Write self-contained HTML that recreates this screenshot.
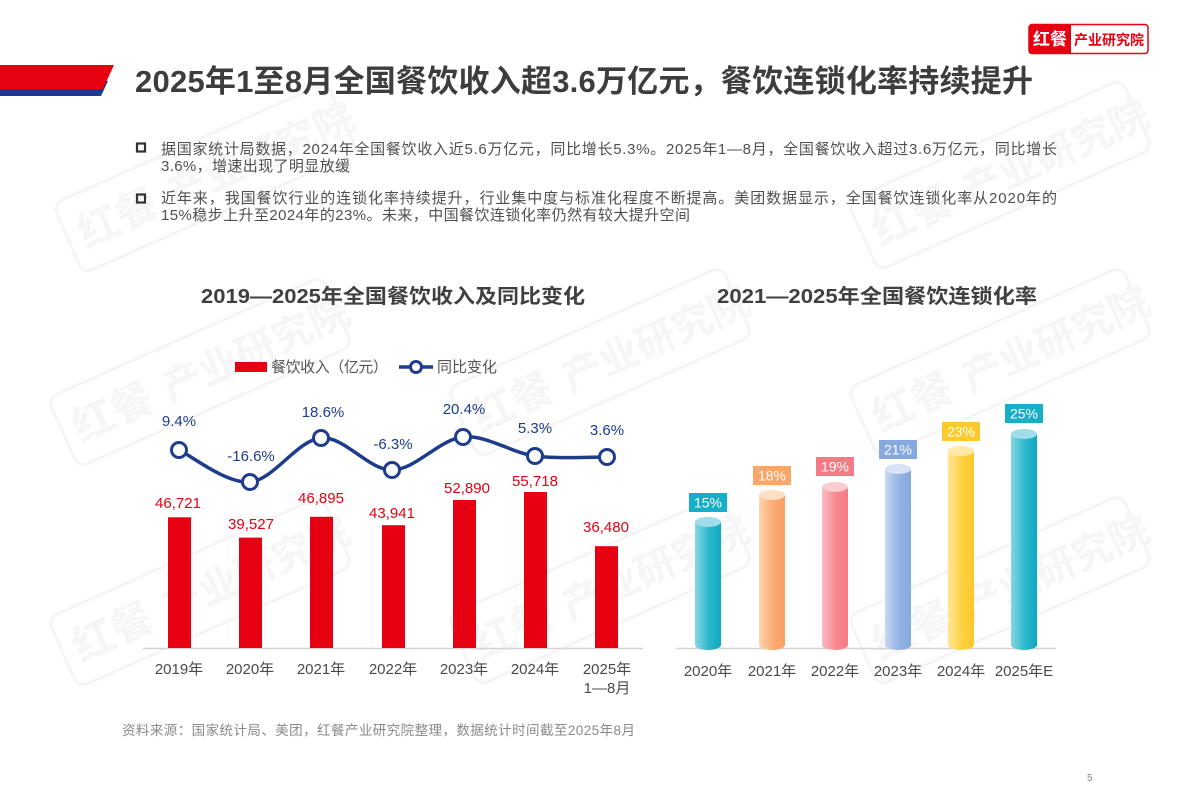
<!DOCTYPE html>
<html><head><meta charset="utf-8"><style>
html,body{margin:0;padding:0;background:#fff;}
svg{display:block;}
text{font-family:"Liberation Sans","Noto Sans CJK SC",sans-serif;}
</style></head><body>
<svg width="1190" height="793" viewBox="0 0 1190 793" xmlns="http://www.w3.org/2000/svg">
<defs>
<linearGradient id="gTeal" x1="0" x2="1" y1="0" y2="0"><stop offset="0" stop-color="#86d6e2"/><stop offset="0.55" stop-color="#2bb7cc"/><stop offset="1" stop-color="#12a8c1"/></linearGradient>
<linearGradient id="gOrange" x1="0" x2="1"><stop offset="0" stop-color="#fdd3ae"/><stop offset="0.55" stop-color="#fbab73"/><stop offset="1" stop-color="#f9a062"/></linearGradient>
<linearGradient id="gPink" x1="0" x2="1"><stop offset="0" stop-color="#f9bcc3"/><stop offset="0.55" stop-color="#f7878f"/><stop offset="1" stop-color="#f57b86"/></linearGradient>
<linearGradient id="gBlue" x1="0" x2="1"><stop offset="0" stop-color="#c8d9f3"/><stop offset="0.55" stop-color="#93b2e4"/><stop offset="1" stop-color="#86a9df"/></linearGradient>
<linearGradient id="gYellow" x1="0" x2="1"><stop offset="0" stop-color="#ffe696"/><stop offset="0.55" stop-color="#ffd040"/><stop offset="1" stop-color="#fdc92c"/></linearGradient>
<g id="wm">
<rect x="-150" y="-38" width="300" height="76" rx="10" fill="none" stroke="#f5f5f5" stroke-width="3"/>
<text x="-138" y="16" font-size="42" font-weight="bold" fill="#f6f6f6">红餐</text>
<text x="-40" y="16" font-size="40" font-weight="bold" fill="#f6f6f6">产业研究院</text>
</g>
</defs>

<!-- watermarks -->
<g>
<use href="#wm" transform="translate(205,178) rotate(-24)"/>
<use href="#wm" transform="translate(1000,175) rotate(-24)"/>
<use href="#wm" transform="translate(200,372) rotate(-24)"/>
<use href="#wm" transform="translate(600,362) rotate(-24)"/>
<use href="#wm" transform="translate(1000,362) rotate(-24)"/>
<use href="#wm" transform="translate(200,592) rotate(-24)"/>
<use href="#wm" transform="translate(600,590) rotate(-24)"/>
<use href="#wm" transform="translate(1000,590) rotate(-24)"/>
</g>

<!-- header band -->
<polygon points="0,81 108,81 101,96 0,96" fill="#1d3a8e"/>
<polygon points="0,65 114,65 103,89 0,89" fill="#e60012"/>

<!-- title -->
<text x="135" y="92" font-size="31" font-weight="bold" fill="#3d3d3d" textLength="898" lengthAdjust="spacing">2025年1至8月全国餐饮收入超3.6万亿元，餐饮连锁化率持续提升</text>

<!-- logo -->
<rect x="1029" y="24.5" width="119" height="29" rx="3" fill="#fff" stroke="#e60012" stroke-width="1.5"/>
<path d="M1032,24.5 h39 v29 h-39 a3,3 0 0 1 -3,-3 v-23 a3,3 0 0 1 3,-3z" fill="#e60012"/>
<text x="1033" y="45" font-size="17" font-weight="bold" fill="#fff" textLength="34" lengthAdjust="spacing">红餐</text>
<text x="1074" y="45" font-size="14" font-weight="bold" fill="#e60012" textLength="70" lengthAdjust="spacing">产业研究院</text>

<!-- bullets -->
<rect x="137" y="143.5" width="8" height="8" fill="none" stroke="#333" stroke-width="2.2"/>
<rect x="137" y="194.5" width="8" height="8" fill="none" stroke="#333" stroke-width="2.2"/>
<g font-size="15" fill="#505050">
<text x="161" y="154" textLength="896" lengthAdjust="spacing">据国家统计局数据，2024年全国餐饮收入近5.6万亿元，同比增长5.3%。2025年1—8月，全国餐饮收入超过3.6万亿元，同比增长</text>
<text x="161" y="171" textLength="189" lengthAdjust="spacing">3.6%，增速出现了明显放缓</text>
<text x="161" y="203" textLength="896" lengthAdjust="spacing">近年来，我国餐饮行业的连锁化率持续提升，行业集中度与标准化程度不断提高。美团数据显示，全国餐饮连锁化率从2020年的</text>
<text x="161" y="220" textLength="529" lengthAdjust="spacing">15%稳步上升至2024年的23%。未来，中国餐饮连锁化率仍然有较大提升空间</text>
</g>

<!-- chart titles -->
<text x="201" y="303" font-size="20" font-weight="bold" fill="#404040" textLength="384" lengthAdjust="spacingAndGlyphs">2019—2025年全国餐饮收入及同比变化</text>
<text x="717" y="303" font-size="20" font-weight="bold" fill="#404040" textLength="320" lengthAdjust="spacingAndGlyphs">2021—2025年全国餐饮连锁化率</text>

<!-- legend -->
<rect x="235" y="362" width="32" height="10" fill="#e60012"/>
<text x="271" y="372" font-size="15" fill="#555" textLength="117" lengthAdjust="spacing">餐饮收入（亿元）</text>
<line x1="399" y1="367" x2="433" y2="367" stroke="#1d3c8c" stroke-width="3.5"/>
<circle cx="416" cy="367" r="5.5" fill="#fff" stroke="#1d3c8c" stroke-width="3"/>
<text x="437" y="372" font-size="15" fill="#555" textLength="60" lengthAdjust="spacing">同比变化</text>

<!-- chart 1 axis -->
<line x1="143" y1="648.5" x2="643" y2="648.5" stroke="#d4d4d4" stroke-width="1.5"/>

<!-- bars -->
<g fill="#e60012">
<rect x="168" y="517.3" width="23" height="130.7"/>
<rect x="239" y="537.6" width="23" height="110.4"/>
<rect x="310" y="516.8" width="23" height="131.2"/>
<rect x="382" y="525.2" width="23" height="122.8"/>
<rect x="453" y="500" width="23" height="148"/>
<rect x="524" y="492" width="23" height="156"/>
<rect x="595" y="546.2" width="23" height="101.8"/>
</g>
<g font-size="15" fill="#e60012" text-anchor="middle">
<text x="178" y="508">46,721</text>
<text x="251" y="529">39,527</text>
<text x="321" y="503">46,895</text>
<text x="392" y="518">43,941</text>
<text x="467" y="493">52,890</text>
<text x="535" y="486">55,718</text>
<text x="606" y="532">36,480</text>
</g>

<!-- line -->
<path d="M179,450 C190.8,455.3 226.3,484 250,482 C273.7,480 297.3,440 321,438 C344.7,436 368.3,470.2 392,470 C415.7,469.8 439.2,439.3 463,437 C486.8,434.7 511,452.7 535,456 C559,459.3 595,456.8 607,457" fill="none" stroke="#1d3c8c" stroke-width="3.5"/>
<g fill="#fff" stroke="#1d3c8c" stroke-width="3">
<circle cx="179" cy="450" r="7.5"/>
<circle cx="250" cy="482" r="7.5"/>
<circle cx="321" cy="438" r="7.5"/>
<circle cx="392" cy="470" r="7.5"/>
<circle cx="463" cy="437" r="7.5"/>
<circle cx="535" cy="456" r="7.5"/>
<circle cx="607" cy="457" r="7.5"/>
</g>
<g font-size="15" fill="#1d3c8c" text-anchor="middle">
<text x="179" y="426">9.4%</text>
<text x="251" y="461">-16.6%</text>
<text x="323" y="417">18.6%</text>
<text x="393" y="449">-6.3%</text>
<text x="464" y="414">20.4%</text>
<text x="535" y="433">5.3%</text>
<text x="607" y="435">3.6%</text>
</g>

<!-- chart 1 x labels -->
<g font-size="15" fill="#4a4a4a" text-anchor="middle">
<text x="179" y="674">2019年</text>
<text x="250" y="674">2020年</text>
<text x="321" y="674">2021年</text>
<text x="393" y="674">2022年</text>
<text x="464" y="674">2023年</text>
<text x="535" y="674">2024年</text>
<text x="607" y="674">2025年</text>
<text x="607" y="693">1—8月</text>
</g>

<!-- chart 2 axis -->
<line x1="676" y1="648.5" x2="1056" y2="648.5" stroke="#d4d4d4" stroke-width="1.5"/>

<!-- cylinders -->
<g>
<path d="M695,522 V645 A13,5 0 0 0 721,645 V522 Z" fill="url(#gTeal)"/>
<ellipse cx="708" cy="522" rx="13" ry="5" fill="#9fdde8"/>
<path d="M759,495 V645 A13,5 0 0 0 785,645 V495 Z" fill="url(#gOrange)"/>
<ellipse cx="772" cy="495" rx="13" ry="5" fill="#fde0c6"/>
<path d="M822,487 V645 A13,5 0 0 0 848,645 V487 Z" fill="url(#gPink)"/>
<ellipse cx="835" cy="487" rx="13" ry="5" fill="#fbcdd2"/>
<path d="M885,469 V645 A13,5 0 0 0 911,645 V469 Z" fill="url(#gBlue)"/>
<ellipse cx="898" cy="469" rx="13" ry="5" fill="#d6e3f6"/>
<path d="M948,451 V645 A13,5 0 0 0 974,645 V451 Z" fill="url(#gYellow)"/>
<ellipse cx="961" cy="451" rx="13" ry="5" fill="#ffeaa8"/>
<path d="M1011,434 V645 A13,5 0 0 0 1037,645 V434 Z" fill="url(#gTeal)"/>
<ellipse cx="1024" cy="434" rx="13" ry="5" fill="#9fdde8"/>
</g>
<!-- label boxes -->
<rect x="689" y="493" width="38" height="19" fill="#17aec7"/>
<rect x="753" y="466" width="38" height="19" fill="#f9a66a"/>
<rect x="816" y="457" width="38" height="19" fill="#f57a86"/>
<rect x="879" y="440" width="38" height="19" fill="#86a9df"/>
<rect x="942" y="422" width="38" height="19" fill="#fdca2e"/>
<rect x="1005" y="404" width="38" height="19" fill="#17aec7"/>
<g font-size="14" fill="#fff" text-anchor="middle">
<text x="708" y="507.5">15%</text>
<text x="772" y="480.5">18%</text>
<text x="835" y="471.5">19%</text>
<text x="898" y="454.5">21%</text>
<text x="961" y="436.5">23%</text>
<text x="1024" y="418.5">25%</text>
</g>
<g font-size="15" fill="#4a4a4a" text-anchor="middle">
<text x="708" y="676">2020年</text>
<text x="772" y="676">2021年</text>
<text x="835" y="676">2022年</text>
<text x="898" y="676">2023年</text>
<text x="961" y="676">2024年</text>
<text x="1024" y="676">2025年E</text>
</g>

<!-- source -->
<text x="122" y="735" font-size="13.5" fill="#8a8a8a" textLength="513" lengthAdjust="spacing">资料来源：国家统计局、美团，红餐产业研究院整理，数据统计时间截至2025年8月</text>
<text x="1087" y="781" font-size="10" fill="#888">5</text>
</svg>
</body></html>
